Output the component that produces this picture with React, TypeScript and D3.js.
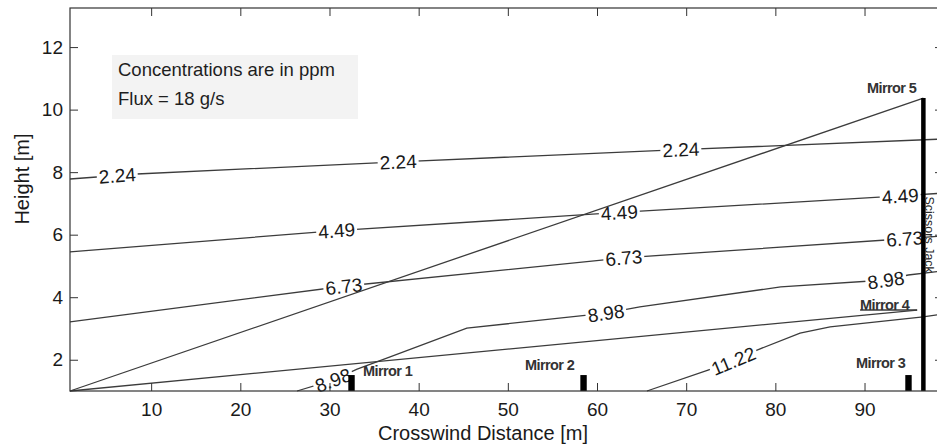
import React, { useEffect, useRef } from 'react';
import * as d3 from 'd3';

type Pt = [number, number];

const xTicks = [10, 20, 30, 40, 50, 60, 70, 80, 90];
const yTicks = [2, 4, 6, 8, 10, 12];

// contour lines: [crosswind distance (m), height (m)]
const contour224: Pt[] = [[0.9, 7.78], [8.4, 7.94], [37.7, 8.33], [69.3, 8.72], [98.8, 9.06]];
const contour449: Pt[] = [[0.9, 5.45], [30.8, 6.13], [62.5, 6.71], [94.0, 7.24], [98.8, 7.33]];
const contour673: Pt[] = [[0.9, 3.21], [31.6, 4.35], [63.0, 5.26], [94.5, 5.87], [98.8, 5.96]];
const contour898: Pt[] = [
  [26.36, 1.0], [30.4, 1.35], [33.1, 1.7], [36.8, 2.09], [45.4, 3.01], [61.0, 3.49],
  [64.8, 3.69], [80.6, 4.33], [92.4, 4.55], [94.9, 4.71], [98.8, 4.84],
];
const contour1122: Pt[] = [
  [65.6, 1.0], [72.45, 1.67], [75.26, 1.96], [77.95, 2.31], [82.77, 2.85],
  [86.14, 3.05], [96.57, 3.37], [98.8, 3.46],
];

const contourLevels = ['2.24', '4.49', '6.73', '8.98', '11.22'];
const contourLines = [contour224, contour449, contour673, contour898, contour1122];
const labelPositions = [
  [6.2, 37.7, 69.4],
  [30.8, 62.5, 94.0],
  [31.6, 63.0, 94.5],
  [30.4, 61.0, 92.4],
  [75.3],
];

// optical paths from the source at the origin
const beamMirror5: Pt[] = [[0.9, 1.0], [96.6, 10.37]];
const beamMirror4: Pt[] = [[0.9, 1.0], [95.9, 3.59]];
const mirror4Marker: Pt[] = [[89.5, 3.59], [95.9, 3.59]];

// ground mirrors
const mirrorNames = ['Mirror 1', 'Mirror 2', 'Mirror 3'];
const mirrorX = [32.47, 58.49, 94.93];
const mirrorTop = [1.51, 1.51, 1.51];

// scissors jack holding mirror 5
const jackX = 96.6;
const jackTop = 10.37;

// mirror label anchors [x, y] (left / baseline)
const mirrorLabels = ['Mirror 1', 'Mirror 2', 'Mirror 3', 'Mirror 4', 'Mirror 5'];
const mirrorLabelAt: Pt[] = [[33.76, 1.48], [51.93, 1.67], [89.05, 1.74], [89.5, 3.6], [90.28, 10.53]];

const W = 937;
const H = 447;
const FONT = '"Liberation Sans", Arial, Helvetica, sans-serif';

const interp = (pts: Pt[], xv: number) => {
  for (let i = 0; i < pts.length - 1; i++) {
    const [x0, y0] = pts[i];
    const [x1, y1] = pts[i + 1];
    if (xv >= x0 && xv <= x1) return y0 + ((xv - x0) / (x1 - x0)) * (y1 - y0);
  }
  return xv < pts[0][0] ? pts[0][1] : pts[pts.length - 1][1];
};

const App: React.FC = () => {
  const svgRef = useRef<SVGSVGElement>(null);

  useEffect(() => {
    if (!svgRef.current) return;
    const svg = d3.select(svgRef.current);
    svg.selectAll('*').remove();

    const left = 70, top = 8, right = 943, bottom = 391;

    const x = d3.scaleLinear().domain([0.9, 98.8]).range([left, right]);
    const y = d3.scaleLinear().domain([1, 13.25]).range([bottom, top]);

    svg.append('rect').attr('width', W).attr('height', H).attr('fill', '#fff');

    // note box
    svg.append('rect')
      .attr('x', 112).attr('y', 55).attr('width', 246).attr('height', 64)
      .attr('fill', '#f3f3f3');
    svg.append('text').attr('x', 118).attr('y', 76)
      .attr('font-family', FONT).attr('font-size', 18.5).attr('fill', '#1e1e1e')
      .text('Concentrations are in ppm');
    svg.append('text').attr('x', 118).attr('y', 105)
      .attr('font-family', FONT).attr('font-size', 18.5).attr('fill', '#1e1e1e')
      .text('Flux = 18 g/s');

    const line = d3.line<Pt>().x(d => x(d[0])).y(d => y(d[1]));

    // contours
    const contourG = svg.append('g');
    contourLines.forEach(pts => {
      contourG.append('path')
        .attr('d', line(pts))
        .attr('fill', 'none')
        .attr('stroke', '#3c3c3c')
        .attr('stroke-width', 1.3);
    });

    // inline contour labels
    const labelG = svg.append('g');
    contourLines.forEach((pts, ci) => {
      labelPositions[ci].forEach(xv => {
        const yv = interp(pts, xv);
        const xa = xv - 1.5, xb = xv + 1.5;
        const ang = Math.atan2(y(interp(pts, xb)) - y(interp(pts, xa)), x(xb) - x(xa)) * 180 / Math.PI;
        const g = labelG.append('g')
          .attr('transform', `translate(${x(xv)},${y(yv)}) rotate(${ang})`);
        const bg = g.append('rect').attr('fill', '#fff');
        const t = g.append('text')
          .attr('text-anchor', 'middle')
          .attr('dy', '0.36em')
          .attr('font-family', FONT)
          .attr('font-size', 19)
          .attr('fill', '#1a1a1a')
          .text(contourLevels[ci]);
        const len = (t.node() as SVGTextElement).getComputedTextLength();
        bg.attr('x', -len / 2 - 2).attr('y', -8).attr('width', len + 4).attr('height', 16);
      });
    });

    // beams
    [beamMirror5, beamMirror4, mirror4Marker].forEach(pts => {
      svg.append('path')
        .attr('d', line(pts))
        .attr('fill', 'none')
        .attr('stroke', '#3c3c3c')
        .attr('stroke-width', 1.3);
    });

    // mirrors on ground
    svg.append('g').selectAll('rect')
      .data(mirrorNames)
      .join('rect')
      .attr('x', (_, i) => x(mirrorX[i]) - 3.2)
      .attr('y', (_, i) => y(mirrorTop[i]))
      .attr('width', 6.4)
      .attr('height', (_, i) => y(1) - y(mirrorTop[i]))
      .attr('fill', '#000');

    // scissors jack
    svg.append('line')
      .attr('x1', x(jackX)).attr('x2', x(jackX))
      .attr('y1', y(jackTop)).attr('y2', y(1))
      .attr('stroke', '#000').attr('stroke-width', 4.5);
    svg.append('text')
      .attr('transform', `translate(${x(jackX) + 1.2},${y(6.0)}) rotate(90)`)
      .attr('text-anchor', 'middle')
      .attr('font-family', FONT).attr('font-size', 12.5).attr('fill', '#2a2a2a')
      .text('Scissors Jack');

    // mirror labels
    svg.append('g').selectAll('text')
      .data(mirrorLabels)
      .join('text')
      .attr('x', (_, i) => x(mirrorLabelAt[i][0]))
      .attr('y', (_, i) => y(mirrorLabelAt[i][1]))
      .attr('font-family', FONT)
      .attr('font-size', 14.5)
      .attr('font-weight', 'bold')
      .attr('letter-spacing', -0.6)
      .attr('fill', '#333')
      .text(d => d);

    // axes
    const axG = svg.append('g').attr('font-family', FONT);
    const xAxisG = axG.append('g').attr('transform', `translate(0,${bottom})`)
      .call(d3.axisBottom(x).tickValues(xTicks).tickSize(-8).tickPadding(12) as any);
    const yAxisG = axG.append('g').attr('transform', `translate(${left},0)`)
      .call(d3.axisLeft(y).tickValues(yTicks).tickSize(-8).tickPadding(7) as any);
    const topG = axG.append('g').attr('transform', `translate(0,${top})`)
      .call(d3.axisTop(x).tickValues(xTicks).tickSize(-8).tickFormat(() => '') as any);
    const rightG = axG.append('g').attr('transform', `translate(${right},0)`)
      .call(d3.axisRight(y).tickValues(yTicks).tickSize(-8).tickFormat(() => '') as any);

    [xAxisG, yAxisG, topG, rightG].forEach(g => {
      g.select('.domain').remove();
      g.selectAll('line').attr('stroke', '#333').attr('stroke-width', 1);
      g.selectAll('text').attr('fill', '#1a1a1a').style('font-size', '19px').attr('font-family', FONT);
    });

    svg.append('rect')
      .attr('x', left).attr('y', top)
      .attr('width', right - left).attr('height', bottom - top)
      .attr('fill', 'none').attr('stroke', '#333').attr('stroke-width', 1.2);

    // axis titles
    svg.append('text')
      .attr('x', 483).attr('y', 440)
      .attr('text-anchor', 'middle')
      .attr('font-family', FONT).attr('font-size', 20).attr('fill', '#1a1a1a')
      .text('Crosswind Distance [m]');
    svg.append('text')
      .attr('transform', 'translate(29,179) rotate(-90)')
      .attr('text-anchor', 'middle')
      .attr('font-family', FONT).attr('font-size', 20).attr('fill', '#1a1a1a')
      .text('Height [m]');
  }, []);

  return (
    <svg
      ref={svgRef}
      width={W}
      height={H}
      style={{ position: 'absolute', left: 0, top: 0, display: 'block', overflow: 'hidden' }}
    />
  );
};

export default App;
